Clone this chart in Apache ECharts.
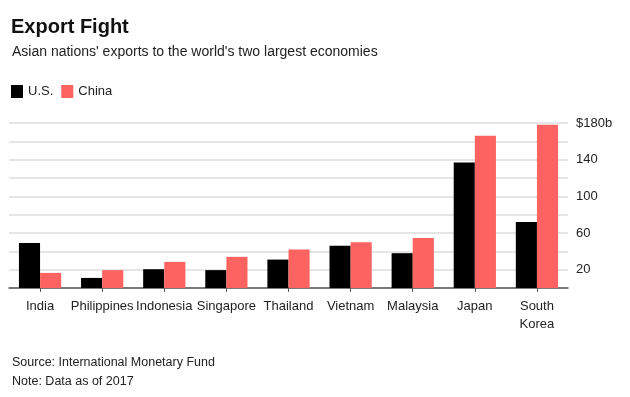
<!DOCTYPE html>
<html>
<head>
<meta charset="utf-8">
<script src="https://cdn.jsdelivr.net/npm/echarts@6/dist/echarts.min.js"></script>
<style>
  html, body { margin: 0; padding: 0; background: #fff; }
  #chart { width: 630px; height: 397px; }
</style>
</head>
<body>
<div id="chart"></div>
<script>
// data (billions of US$, 2017)
var countries = ['India', 'Philippines', 'Indonesia', 'Singapore', 'Thailand', 'Vietnam', 'Malaysia', 'Japan', 'South\nKorea']
var usExports = [49, 11, 20.5, 19.5, 31, 46, 38, 137, 72]
var chinaExports = [16.5, 19.5, 28.5, 34, 42, 50, 54.5, 166, 178]
var yTickLabels = [20, 60, 100, 140, 180]

var font = 'Liberation Sans, Arial, sans-serif'
var chart = echarts.init(document.getElementById('chart'))

chart.setOption({
  animation: false,
  backgroundColor: '#fff',
  color: ['#000000', '#fd6461'],
  title: [
    {
      text: 'Export Fight',
      left: 6,
      top: 12,
      textStyle: { fontFamily: font, fontSize: 20, fontWeight: 'bold', color: '#111' }
    },
    {
      text: "Asian nations' exports to the world's two largest economies",
      left: 7,
      top: 40,
      textStyle: { fontFamily: font, fontSize: 14, fontWeight: 'normal', color: '#222' }
    },
    {
      text: 'Source: International Monetary Fund',
      left: 7,
      top: 351,
      textStyle: { fontFamily: font, fontSize: 12.5, fontWeight: 'normal', color: '#222' }
    },
    {
      text: 'Note: Data as of 2017',
      left: 7,
      top: 370,
      textStyle: { fontFamily: font, fontSize: 12.5, fontWeight: 'normal', color: '#222' }
    }
  ],
  legend: {
    left: 6,
    top: 80,
    itemWidth: 12,
    itemHeight: 13,
    itemGap: 8,
    icon: 'rect',
    textStyle: { fontFamily: font, fontSize: 13, color: '#222' },
    data: ['U.S.', 'China']
  },
  grid: {
    left: 9,
    right: 62,
    top: 123,
    bottom: 109
  },
  xAxis: {
    type: 'category',
    data: countries,
    axisLine: { lineStyle: { color: '#555', width: 1.5 } },
    axisTick: { show: true, alignWithLabel: true, length: 4, lineStyle: { color: '#555' } },
    axisLabel: { fontFamily: font, fontSize: 13, color: '#222', margin: 9, interval: 0, lineHeight: 18 }
  },
  yAxis: {
    type: 'value',
    position: 'right',
    min: 0,
    max: 180,
    interval: 20,
    axisLine: { show: false },
    axisTick: { show: false },
    splitLine: { lineStyle: { color: '#dcdcdc', width: 1.5 } },
    axisLabel: {
      fontFamily: font,
      fontSize: 13,
      color: '#222',
      margin: 8,
      formatter: function (v) {
        if (yTickLabels.indexOf(v) < 0) return ''
        return v === 180 ? '$180b' : String(v)
      }
    }
  },
  series: [
    {
      name: 'U.S.',
      type: 'bar',
      data: usExports,
      barGap: '0%',
      barCategoryGap: '32%'
    },
    {
      name: 'China',
      type: 'bar',
      data: chinaExports
    }
  ]
})
</script>
</body>
</html>
